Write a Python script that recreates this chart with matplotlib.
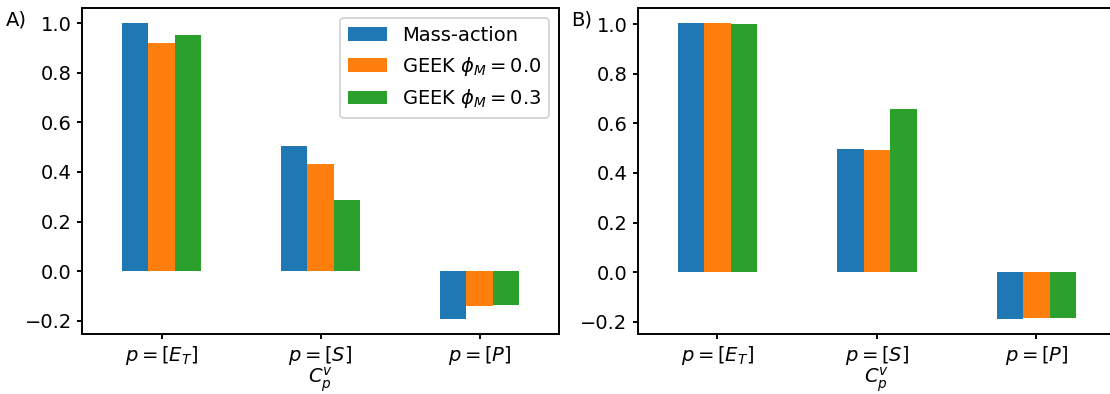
import numpy as np
import matplotlib
matplotlib.use("Agg")
import matplotlib.pyplot as plt

# Control coefficients C_p^v for the three parameters
params = [r"$p=[E_T]$", r"$p=[S]$", r"$p=[P]$"]
series = ["Mass-action", r"GEEK $\phi_M=0.0$", r"GEEK $\phi_M=0.3$"]

a_mass_action = [1.000, 0.506, -0.193]
a_geek_00 = [0.920, 0.430, -0.139]
a_geek_03 = [0.952, 0.285, -0.135]

b_mass_action = [1.004, 0.498, -0.189]
b_geek_00 = [1.004, 0.494, -0.185]
b_geek_03 = [1.000, 0.659, -0.185]

colors = ["#1f77b4", "#ff7f0e", "#2ca02c"]

plt.rcParams.update({
    "axes.linewidth": 1.0,
    "xtick.major.width": 1.0,
    "ytick.major.width": 1.0,
    "xtick.major.size": 2.6,
    "ytick.major.size": 2.6,
    "xtick.major.pad": 2.6,
    "ytick.major.pad": 2.6,
})

W, H, DPI = 1110, 394, 140
fig = plt.figure(figsize=(W / DPI, H / DPI), dpi=DPI)


def px_axes(left, top, right, bottom):
    return fig.add_axes([left / W, 1 - bottom / H, (right - left) / W, (bottom - top) / H])


ax_a = px_axes(82, 8.3, 559, 333.8)
ax_b = px_axes(637.7, 8.3, 1116.2, 333.8)


def grouped_bars(ax, data, legend=False):
    x = np.arange(len(params))
    n = len(data)
    width = 0.5 / n
    for i, (vals, c, name) in enumerate(zip(data, colors, series)):
        ax.bar(x + (i - (n - 1) / 2) * width, vals, width=width, color=c, label=name)
    ax.set_xticks(x)
    ax.set_xticklabels(params, rotation=0)
    ax.set_xlim(-0.5, len(params) - 0.5)
    ax.set_xlabel(r"$C_p^v$", labelpad=-1)
    if legend:
        ax.legend(loc="upper right")


grouped_bars(ax_a, [a_mass_action, a_geek_00, a_geek_03], legend=True)
grouped_bars(ax_b, [b_mass_action, b_geek_00, b_geek_03])

fig.text(6 / W, 1 - 25 / H, "A)", fontsize=10, va="baseline", ha="left")
fig.text(571 / W, 1 - 25 / H, "B)", fontsize=10, va="baseline", ha="left")

fig.savefig("out.png", dpi=DPI)
